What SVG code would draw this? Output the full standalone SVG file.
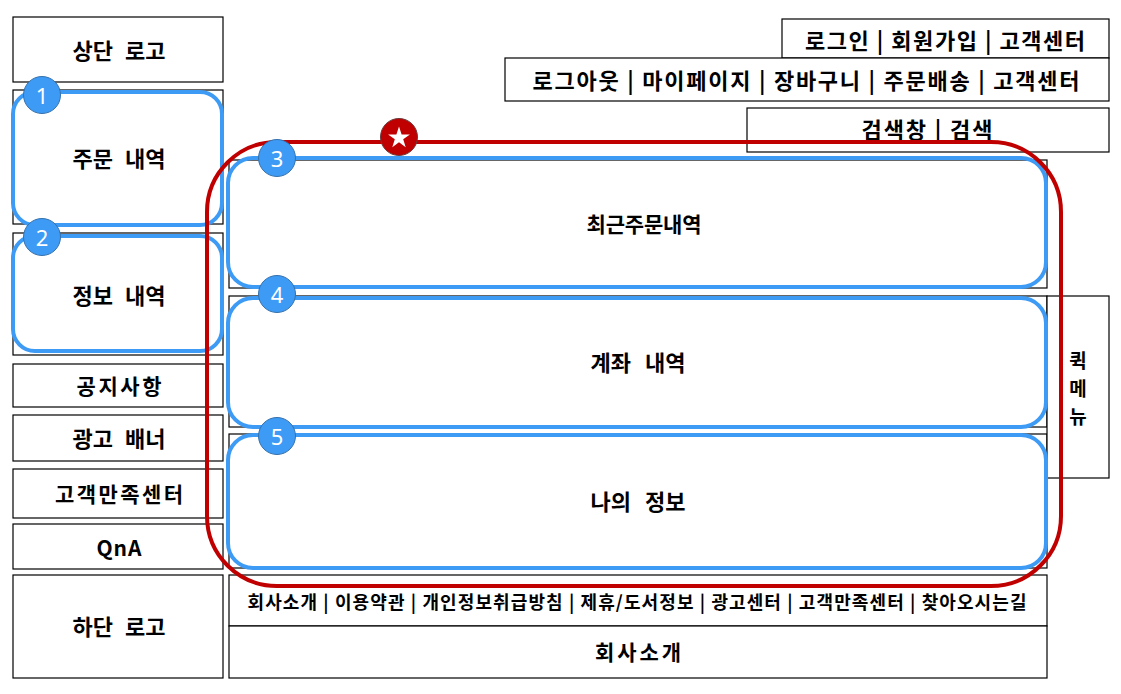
<svg xmlns="http://www.w3.org/2000/svg" width="1121" height="694" viewBox="0 0 1121 694">
<style>
.box{fill:#fff;stroke:#000;stroke-width:1.2}
.t{font-family:"Noto Sans CJK KR","Noto Sans",sans-serif;font-weight:bold;font-size:21px;fill:#000;text-anchor:middle;dominant-baseline:central}
.w{font-size:22px;word-spacing:7px}
.s{font-size:18px}
.b{font-size:22px}
.v{font-size:19px}
.hl{fill:none;stroke:#3d9bf5;stroke-width:4}
.red{fill:none;stroke:#c00000;stroke-width:4}
.badge{fill:#3d9bf5;stroke:#3571ad;stroke-width:1}
.num{font-family:"Noto Sans","DejaVu Sans",sans-serif;font-size:22px;fill:#fff;text-anchor:middle;dominant-baseline:central}
</style>
<rect width="1121" height="694" fill="#fff"/>
<g id="top-logo"><rect class="box" x="13" y="17" width="210" height="65"/><text class="t w" x="119" y="49">상단 로고</text></g>
<g id="order-menu"><rect class="box" x="13" y="90" width="210" height="134"/><text class="t w" x="119" y="157">주문 내역</text></g>
<g id="info-menu"><rect class="box" x="13" y="233" width="210" height="122"/><text class="t w" x="119" y="294">정보 내역</text></g>
<g id="notice"><rect class="box" x="13" y="364" width="210" height="43"/><text class="t" x="119" y="385" textLength="85" lengthAdjust="spacing">공지사항</text></g>
<g id="ad-banner"><rect class="box" x="13" y="415" width="210" height="46"/><text class="t w" x="119" y="437">광고 배너</text></g>
<g id="cs-center"><rect class="box" x="13" y="469" width="210" height="49"/><text class="t" x="119" y="493" textLength="128" lengthAdjust="spacing">고객만족센터</text></g>
<g id="qna"><rect class="box" x="13" y="524" width="210" height="45"/><text class="t" x="119" y="547" textLength="45" lengthAdjust="spacing">QnA</text></g>
<g id="bottom-logo"><rect class="box" x="13" y="575" width="210" height="103"/><text class="t w" x="119" y="625">하단 로고</text></g>
<g id="login-bar"><rect class="box" x="782" y="19" width="327" height="39"/><text class="t b" x="945" y="39" textLength="280" lengthAdjust="spacing">로그인 | 회원가입 | 고객센터</text></g>
<g id="member-bar"><rect class="box" x="505" y="58" width="604" height="43"/><text class="t b" x="806" y="79" textLength="547" lengthAdjust="spacing">로그아웃 | 마이페이지 | 장바구니 | 주문배송 | 고객센터</text></g>
<g id="search-bar"><rect class="box" x="747" y="108" width="362" height="44"/><text class="t b" x="927" y="128" textLength="131" lengthAdjust="spacing">검색창 | 검색</text></g>
<g id="recent-orders"><rect class="box" x="229" y="160" width="818" height="128"/><text class="t" x="644" y="223" textLength="115" lengthAdjust="spacing">최근주문내역</text></g>
<g id="account"><rect class="box" x="229" y="296" width="818" height="131"/><text class="t w" x="638" y="361" style="word-spacing:9px">계좌 내역</text></g>
<g id="my-info"><rect class="box" x="229" y="434" width="818" height="134"/><text class="t w" x="638" y="500" style="word-spacing:9px">나의 정보</text></g>
<g id="quick-menu"><rect class="box" x="1047" y="296" width="62" height="182"/><text class="t v" x="1078" y="359">퀵</text><text class="t v" x="1078" y="387">메</text><text class="t v" x="1078" y="415">뉴</text></g>
<g id="footer-links"><rect class="box" x="229" y="575" width="818" height="51"/><text class="t s" x="637" y="601" textLength="779" lengthAdjust="spacing">회사소개 | 이용약관 | 개인정보취급방침 | 제휴/도서정보 | 광고센터 | 고객만족센터 | 찾아오시는길</text></g>
<g id="footer-company"><rect class="box" x="229" y="626" width="818" height="52"/><text class="t" x="638" y="651" textLength="86" lengthAdjust="spacing">회사소개</text></g>
<g id="connectors">
<rect class="hl" x="13" y="92" width="209" height="133" rx="22"/>
<rect class="hl" x="13" y="236" width="209" height="115" rx="22"/>
<rect class="hl" x="228" y="158" width="818" height="129" rx="25"/>
<rect class="hl" x="228" y="298" width="818" height="129" rx="25"/>
<rect class="hl" x="228" y="435" width="818" height="133" rx="25"/>
<rect class="red" x="207" y="142" width="854" height="444" rx="70"/>
</g>
<g id="badge-1"><circle class="badge" cx="42" cy="95" r="18.5"/><text class="num" x="42" y="95">1</text></g>
<g id="badge-2"><circle class="badge" cx="42" cy="237" r="18.5"/><text class="num" x="42" y="237">2</text></g>
<g id="badge-3"><circle class="badge" cx="277" cy="158" r="18.5"/><text class="num" x="277" y="158">3</text></g>
<g id="badge-4"><circle class="badge" cx="277" cy="294" r="18.5"/><text class="num" x="277" y="294">4</text></g>
<g id="badge-5"><circle class="badge" cx="277" cy="436" r="18.5"/><text class="num" x="277" y="436">5</text></g>
<g id="badge-star"><circle cx="399" cy="137" r="18.5" fill="#c00000" stroke="#6b3b3b" stroke-width="1"/><polygon fill="#fff" points="399,126.5 401.6,134.4 409.9,134.4 403.2,139.3 405.7,147.2 399,142.3 392.3,147.2 394.8,139.3 388.1,134.4 396.4,134.4"/></g>
</svg>
